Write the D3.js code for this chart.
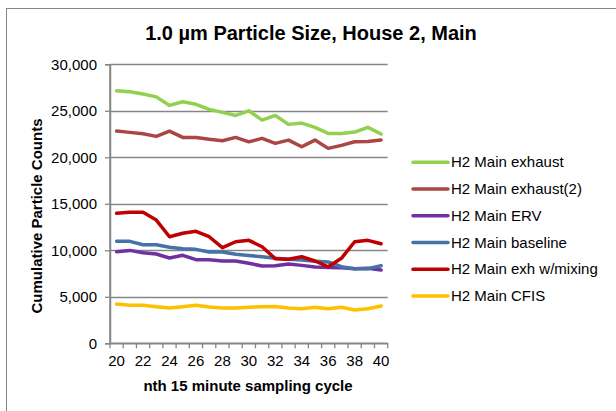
<!DOCTYPE html>
<html>
<head>
<meta charset="utf-8">
<script src="https://cdn.jsdelivr.net/npm/d3@7"></script>
<style>
  html, body { margin: 0; padding: 0; background: #fff; }
  svg { display: block; font-family: "Liberation Sans", Arial, sans-serif; }
</style>
</head>
<body>
<svg id="chart" width="616" height="411"></svg>
<script>
const categories = [20,21,22,23,24,25,26,27,28,29,30,31,32,33,34,35,36,37,38,39,40];
const xTickLabels = ["20","22","24","26","28","30","32","34","36","38","40"];
const yTickValues = [0,5000,10000,15000,20000,25000,30000];

const exhaust     = [27150,27050,26800,26500,25580,25970,25700,25150,24830,24500,25000,24000,24500,23540,23680,23220,22570,22570,22710,23220,22500];
const exhaust2    = [22820,22680,22530,22250,22820,22140,22140,21930,21780,22140,21660,22040,21500,21850,21130,21850,20960,21280,21670,21700,21850];
const erv         = [9850,9990,9740,9600,9170,9460,8990,8990,8850,8850,8600,8310,8340,8525,8380,8200,8160,8130,8020,8060,7880];
const baseline    = [10965,10965,10600,10600,10320,10170,10100,9815,9815,9570,9450,9310,9140,9030,8955,8810,8740,8230,8020,8020,8340];
const exhMixing   = [13975,14080,14080,13250,11460,11830,12040,11460,10280,10920,11070,10380,9100,9030,9310,8850,8230,9140,10920,11070,10710];
const cfis        = [4225,4085,4085,3935,3795,3935,4085,3900,3795,3795,3870,3935,3960,3795,3720,3870,3720,3870,3580,3720,4010];

const seriesNames  = ["H2 Main exhaust","H2 Main exhaust(2)","H2 Main ERV","H2 Main baseline","H2 Main exh w/mixing","H2 Main CFIS"];
const seriesValues = [exhaust, exhaust2, erv, baseline, exhMixing, cfis];
const seriesColors = ["#92D050","#AA4643","#7030A0","#4572A7","#C00000","#FFC000"];

const svg = d3.select("#chart");
const gray = "#868686";

// outer chart border
svg.append("rect").attr("x",6.5).attr("y",8.5).attr("width",700).attr("height",500)
  .attr("fill","none").attr("stroke",gray).attr("stroke-width",1);

const pLeft = 110, pRight = 387.7, pTop = 64.3, pBottom = 343.3;
const x = d3.scaleBand().domain(categories).range([pLeft, pRight]).padding(0);
const y = d3.scaleLinear().domain([0, 30000]).range([pBottom, pTop]);
const cx = d => x(d) + x.bandwidth() / 2;

// gridlines
svg.append("g").selectAll("line").data(yTickValues.filter(v => v > 0)).join("line")
  .attr("x1", pLeft).attr("x2", pRight)
  .attr("y1", d => Math.round(y(d)) + 0.5).attr("y2", d => Math.round(y(d)) + 0.5)
  .attr("stroke", gray).attr("stroke-width", 1.3);

// y axis
const yAxis = svg.append("g").attr("transform", `translate(${pLeft},0)`)
  .call(d3.axisLeft(y).tickValues(yTickValues).tickFormat(d3.format(",")).tickSize(5).tickPadding(8));
yAxis.select(".domain").attr("stroke", gray).attr("stroke-width", 1.5);
yAxis.selectAll(".tick line").attr("stroke", gray).attr("stroke-width", 1.3);
yAxis.selectAll("text").attr("font-size", 15).attr("fill", "#000")
  .attr("font-family", "Liberation Sans, Arial, sans-serif");

// x axis
const xAxis = svg.append("g").attr("transform", `translate(0,${pBottom})`)
  .call(d3.axisBottom(x).tickValues(categories.filter(c => xTickLabels.includes(String(c)))).tickSize(0).tickPadding(12));
xAxis.select(".domain").attr("stroke", gray).attr("stroke-width", 1.5);
xAxis.selectAll("text").attr("font-size", 15).attr("fill", "#000")
  .attr("font-family", "Liberation Sans, Arial, sans-serif");
// boundary tick marks
const bounds = categories.map(c => x(c)).concat([x(categories[categories.length-1]) + x.bandwidth()]);
svg.append("g").selectAll("line").data(bounds).join("line")
  .attr("x1", d => d).attr("x2", d => d).attr("y1", pBottom).attr("y2", pBottom + 5)
  .attr("stroke", gray).attr("stroke-width", 1.3);

// lines
const line = d3.line().x((d, i) => cx(categories[i])).y(d => y(d));
svg.append("g").selectAll("path").data(seriesValues).join("path")
  .attr("d", d => line(d)).attr("fill", "none")
  .attr("stroke", (d, i) => seriesColors[i]).attr("stroke-width", 3.5)
  .attr("stroke-linejoin", "round").attr("stroke-linecap", "round");

// axis lines on top
svg.append("line").attr("x1", pLeft).attr("x2", pLeft).attr("y1", pTop).attr("y2", pBottom)
  .attr("stroke", gray).attr("stroke-width", 1.5);
svg.append("line").attr("x1", pLeft).attr("x2", pRight).attr("y1", pBottom).attr("y2", pBottom)
  .attr("stroke", gray).attr("stroke-width", 1.5);

// title
svg.append("text").attr("x", 311).attr("y", 40).attr("text-anchor", "middle")
  .attr("font-size", 20).attr("font-weight", "bold").text("1.0 µm Particle Size, House 2, Main");

// axis titles
svg.append("text").attr("transform", "translate(42,216) rotate(-90)").attr("text-anchor", "middle")
  .attr("font-size", 15).attr("font-weight", "bold").text("Cumulative Particle Counts");
svg.append("text").attr("x", 248).attr("y", 391).attr("text-anchor", "middle")
  .attr("font-size", 15).attr("font-weight", "bold").text("nth 15 minute sampling cycle");

// legend
const lg = svg.append("g").selectAll("g").data(seriesNames).join("g")
  .attr("transform", (d, i) => `translate(412,${162.3 + i * 26.75})`);
lg.append("line").attr("x1", 1).attr("x2", 36).attr("y1", 0).attr("y2", 0)
  .attr("stroke", (d, i) => seriesColors[i]).attr("stroke-width", 3.5).attr("stroke-linecap", "round");
lg.append("text").attr("x", 39).attr("y", 5).attr("font-size", 15).text(d => d);
</script>
</body>
</html>
